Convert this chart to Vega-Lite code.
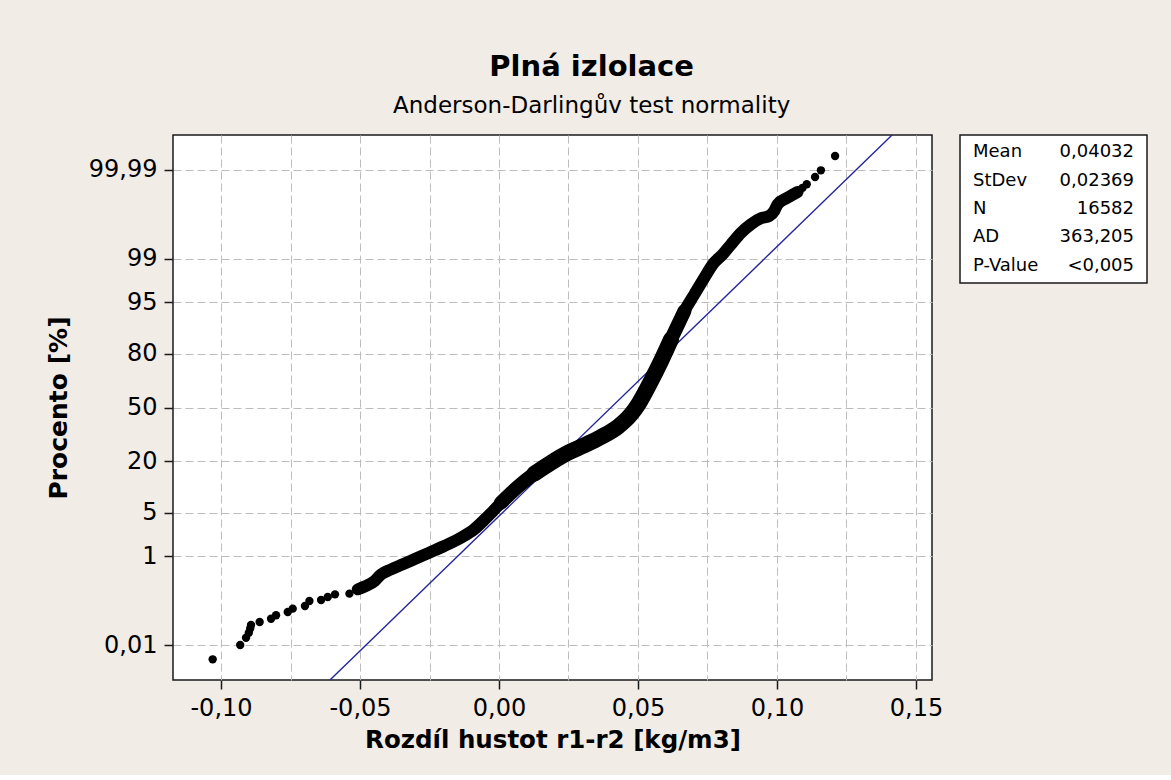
{
  "$schema": "https://vega.github.io/schema/vega-lite/v6.json",
  "background": "#F2ECE6",
  "autosize": {"type": "pad"},
  "padding": {"left": 45, "top": 53, "right": 25, "bottom": 22},
  "title": {
    "text": "Plná izlolace",
    "subtitle": "Anderson-Darlingův test normality",
    "anchor": "middle",
    "dx": -5,
    "font": "DejaVu Sans",
    "fontSize": 29,
    "fontWeight": "bold",
    "color": "black",
    "subtitleFont": "DejaVu Sans",
    "subtitleFontSize": 23,
    "subtitleColor": "black",
    "subtitlePadding": 13,
    "offset": 16
  },
  "config": {
    "view": {"stroke": "#1a1a1a", "strokeWidth": 1.5, "fill": "white"}
  },
  "bounds": "flush",
  "spacing": 28,
  "datasets": {
    "fit": [
      {"x": -0.0608, "z": -4.267},
      {"x": 0.1414, "z": 4.267}
    ],
    "tail": [
      {"x": -0.1030, "z": -3.943},
      {"x": -0.0931, "z": -3.719},
      {"x": -0.0910, "z": -3.605},
      {"x": -0.0900, "z": -3.526},
      {"x": -0.0895, "z": -3.460},
      {"x": -0.0892, "z": -3.406},
      {"x": -0.0861, "z": -3.359},
      {"x": -0.0820, "z": -3.307},
      {"x": -0.0802, "z": -3.254},
      {"x": -0.0760, "z": -3.202},
      {"x": -0.0742, "z": -3.150},
      {"x": -0.0698, "z": -3.108},
      {"x": -0.0682, "z": -3.030},
      {"x": -0.0640, "z": -3.014},
      {"x": -0.0616, "z": -2.967},
      {"x": -0.0590, "z": -2.926},
      {"x": -0.0538, "z": -2.915},
      {"x": 0.1074, "z": 3.375},
      {"x": 0.1092, "z": 3.440},
      {"x": 0.1107, "z": 3.495},
      {"x": 0.1137, "z": 3.609},
      {"x": 0.1158, "z": 3.714},
      {"x": 0.1209, "z": 3.938}
    ],
    "bulk": [
      {"x": -0.0508, "z": -2.847},
      {"x": -0.0478, "z": -2.795},
      {"x": -0.0448, "z": -2.717},
      {"x": -0.0424, "z": -2.612},
      {"x": -0.0388, "z": -2.534},
      {"x": -0.0346, "z": -2.456},
      {"x": -0.0305, "z": -2.377},
      {"x": -0.0251, "z": -2.273},
      {"x": -0.0197, "z": -2.169},
      {"x": -0.0137, "z": -2.039},
      {"x": -0.0089, "z": -1.907},
      {"x": -0.0053, "z": -1.760},
      {"x": -0.0023, "z": -1.630},
      {"x": 0.0007, "z": -1.491},
      {"x": 0.0067, "z": -1.245},
      {"x": 0.0127, "z": -1.036},
      {"x": 0.0187, "z": -0.864},
      {"x": 0.0249, "z": -0.707},
      {"x": 0.0307, "z": -0.592},
      {"x": 0.0367, "z": -0.462},
      {"x": 0.0427, "z": -0.305},
      {"x": 0.0475, "z": -0.107},
      {"x": 0.0501, "z": 0.050},
      {"x": 0.0547, "z": 0.415},
      {"x": 0.0583, "z": 0.728},
      {"x": 0.0619, "z": 1.068},
      {"x": 0.0667, "z": 1.511},
      {"x": 0.0703, "z": 1.773},
      {"x": 0.0739, "z": 2.033},
      {"x": 0.0769, "z": 2.242},
      {"x": 0.0805, "z": 2.399},
      {"x": 0.0835, "z": 2.556},
      {"x": 0.0871, "z": 2.737},
      {"x": 0.0906, "z": 2.868},
      {"x": 0.0942, "z": 2.962},
      {"x": 0.0972, "z": 2.999},
      {"x": 0.0990, "z": 3.077},
      {"x": 0.1002, "z": 3.182},
      {"x": 0.1038, "z": 3.285},
      {"x": 0.1074, "z": 3.375}
    ],
    "stats": [
      {"stat": "Mean", "value": "0,04032"},
      {"stat": "StDev", "value": "0,02369"},
      {"stat": "N", "value": "16582"},
      {"stat": "AD", "value": "363,205"},
      {"stat": "P-Value", "value": "<0,005"}
    ]
  },
  "hconcat": [
    {
      "width": 759,
      "height": 545,
      "encoding": {
        "x": {
          "field": "x",
          "type": "quantitative",
          "scale": {"domain": [-0.11727, 0.15576], "nice": false, "zero": false},
          "axis": {
            "values": [-0.1, -0.075, -0.05, -0.025, 0, 0.025, 0.05, 0.075, 0.1, 0.125, 0.15],
            "labelExpr": "round(datum.value*1000) % 50 == 0 ? replace(replace(format(datum.value, '.2f'), '.', ','), '\u2212', '-') : ''",
            "title": "Rozdíl hustot r1-r2 [kg/m3]",
            "grid": true,
            "gridDash": [8, 4],
            "gridColor": "#bdbdbd",
            "gridWidth": 1,
            "domain": false,
            "tickSize": 9,
            "tickWidth": 1.5,
            "tickColor": "#1a1a1a",
            "tickOpacity": {"condition": {"test": "round(datum.value*1000) % 50 != 0", "value": 0}, "value": 1},
            "labelFont": "DejaVu Sans",
            "labelFontSize": 24,
            "labelColor": "black",
            "labelPadding": 7,
            "labelOverlap": false,
            "labelFlush": false,
            "titleFont": "DejaVu Sans",
            "titleFontSize": 24.5,
            "titleFontWeight": "bold",
            "titleColor": "black",
            "titlePadding": 8
          }
        },
        "y": {
          "field": "z",
          "type": "quantitative",
          "scale": {"domain": [-4.267, 4.267], "nice": false, "zero": false},
          "axis": {
            "values": [-3.719, -2.3263, -1.6449, -0.8416, 0, 0.8416, 1.6449, 2.3263, 3.719],
            "labelExpr": "datum.value < -3 ? '0,01' : datum.value < -2 ? '1' : datum.value < -1.2 ? '5' : datum.value < -0.5 ? '20' : datum.value < 0.5 ? '50' : datum.value < 1.2 ? '80' : datum.value < 2 ? '95' : datum.value < 3 ? '99' : '99,99'",
            "title": "Procento [%]",
            "grid": true,
            "gridDash": [8, 4],
            "gridColor": "#bdbdbd",
            "gridWidth": 1,
            "domain": false,
            "tickSize": 9,
            "tickWidth": 1.5,
            "tickColor": "#1a1a1a",
            "labelFont": "DejaVu Sans",
            "labelFontSize": 24,
            "labelColor": "black",
            "labelPadding": 7,
            "labelOverlap": false,
            "titleFont": "DejaVu Sans",
            "titleFontSize": 25,
            "titleFontWeight": "bold",
            "titleColor": "black",
            "titlePadding": 17
          }
        }
      },
      "layer": [
        {
          "data": {"name": "fit"},
          "mark": {"type": "line", "color": "#24249C", "strokeWidth": 1.4, "clip": true}
        },
        {
          "data": {"name": "bulk"},
          "mark": {"type": "line", "color": "black", "strokeWidth": 12, "strokeCap": "round", "strokeJoin": "round", "interpolate": "monotone"}
        },
        {
          "data": {"name": "bulk"},
          "transform": [{"filter": "datum.x > -0.001 && datum.x < 0.068"}],
          "mark": {"type": "line", "color": "black", "strokeWidth": 14, "strokeCap": "round", "strokeJoin": "round", "interpolate": "monotone"}
        },
        {
          "data": {"name": "bulk"},
          "transform": [{"filter": "datum.x > 0.010 && datum.x < 0.064"}],
          "mark": {"type": "line", "color": "black", "strokeWidth": 16, "strokeCap": "round", "strokeJoin": "round", "interpolate": "monotone"}
        },
        {
          "data": {"name": "tail"},
          "mark": {"type": "circle", "size": 70, "color": "black", "opacity": 1}
        }
      ]
    },
    {
      "width": 187,
      "height": 148,
      "data": {"name": "stats"},
      "encoding": {
        "y": {"field": "stat", "type": "nominal", "sort": null, "scale": {"type": "point", "padding": 0.6}, "axis": null}
      },
      "layer": [
        {
          "mark": {"type": "text", "align": "left", "baseline": "middle", "font": "DejaVu Sans", "fontSize": 18, "color": "black"},
          "encoding": {"x": {"value": 13}, "text": {"field": "stat"}}
        },
        {
          "mark": {"type": "text", "align": "right", "baseline": "middle", "font": "DejaVu Sans", "fontSize": 18, "color": "black"},
          "encoding": {"x": {"value": 174}, "text": {"field": "value"}}
        }
      ]
    }
  ]
}
